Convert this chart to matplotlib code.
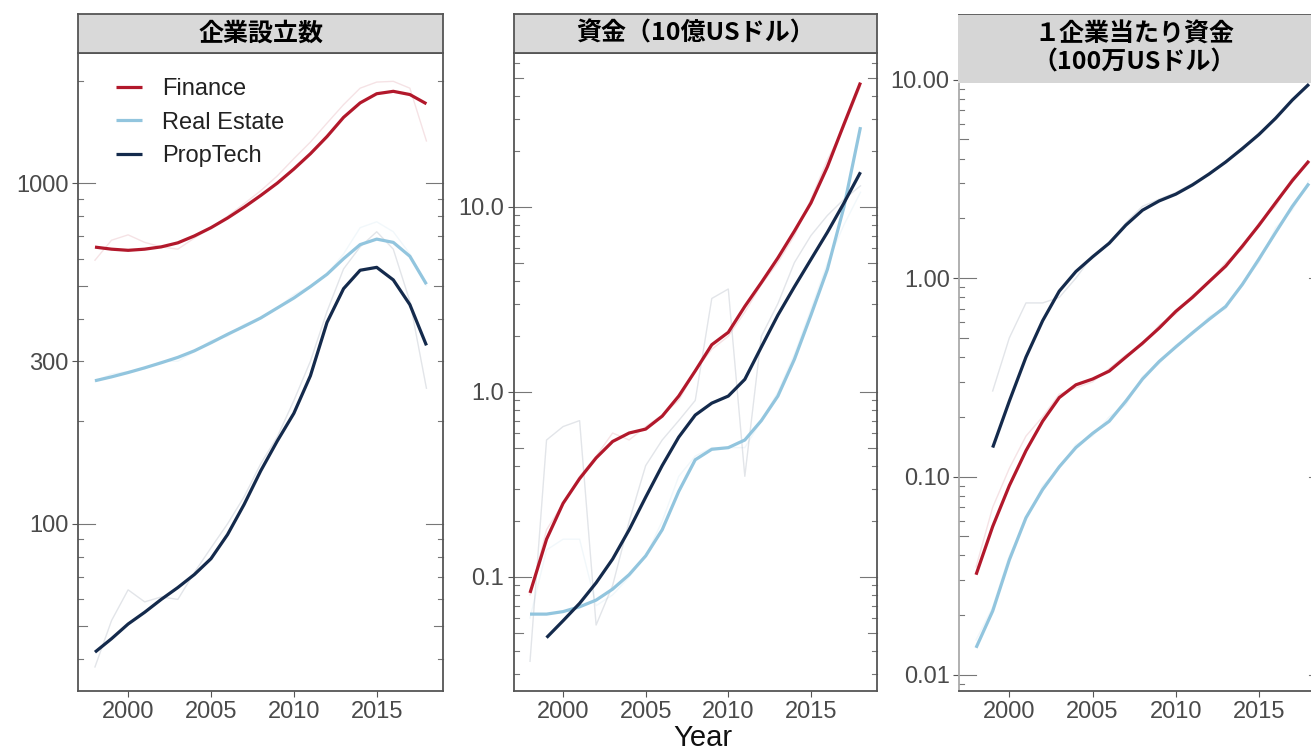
import numpy as np
import matplotlib
matplotlib.use("Agg")
import matplotlib.pyplot as plt
from matplotlib.ticker import FixedLocator, NullLocator, FixedFormatter

plt.rcParams['font.family'] = ['Liberation Sans', 'Noto Sans CJK JP', 'DejaVu Sans']

years = list(range(1998, 2019))
series_names = ['Finance', 'Real Estate', 'PropTech']
colors = {'Finance': '#b2182b', 'Real Estate': '#92c5de', 'PropTech': '#142a4c'}
titles = ['企業設立数', '資金（10億USドル）', '１企業当たり資金\n（100万USドル）']

# panel 1: number of firms founded (smoothed)
firms_fin = [649, 640, 635, 640, 650, 668, 700, 740, 790, 850, 920, 1000, 1100, 1220, 1370, 1560, 1720, 1830, 1860, 1820, 1710]
firms_re = [263, 270, 278, 287, 297, 308, 322, 340, 360, 380, 402, 430, 460, 497, 540, 600, 660, 685, 670, 610, 505]
firms_pt = [42, 46, 50.8, 55, 60, 65, 71, 79, 93, 114, 143, 175, 211, 272, 390, 490, 555, 566, 520, 440, 334]
# panel 1: raw counts (faint)
firms_fin_raw = [594, 680, 705, 670, 650, 640, 690, 740, 800, 870, 950, 1050, 1180, 1320, 1500, 1700, 1900, 1980, 1990, 1900, 1330]
firms_re_raw = [262, 275, 280, 285, 300, 300, 320, 345, 355, 385, 400, 430, 470, 500, 540, 620, 740, 770, 720, 620, 500]
firms_pt_raw = [38, 52, 64, 59, 61, 60, 72, 85, 100, 120, 150, 180, 230, 300, 420, 560, 650, 720, 640, 450, 250]

# panel 2: funding, billion USD (smoothed)
fund_fin = [0.082, 0.16, 0.25, 0.34, 0.44, 0.54, 0.60, 0.63, 0.74, 0.95, 1.3, 1.8, 2.1, 2.9, 3.9, 5.3, 7.4, 10.5, 16.5, 28, 47]
fund_re = [0.063, 0.063, 0.065, 0.069, 0.075, 0.086, 0.103, 0.13, 0.18, 0.29, 0.43, 0.49, 0.50, 0.55, 0.70, 0.95, 1.5, 2.6, 4.6, 10, 27]
fund_pt = [None, 0.047, 0.058, 0.072, 0.093, 0.125, 0.18, 0.27, 0.40, 0.57, 0.75, 0.87, 0.95, 1.17, 1.75, 2.6, 3.7, 5.2, 7.3, 10.5, 15.4]
fund_fin_raw = [0.08, 0.18, 0.25, 0.35, 0.45, 0.6, 0.55, 0.65, 0.75, 0.9, 1.3, 1.7, 2.0, 2.7, 3.8, 5.0, 7.0, 11, 18, 27, 45]
fund_re_raw = [0.06, 0.14, 0.16, 0.16, 0.07, 0.08, 0.10, 0.13, 0.20, 0.35, 0.45, 0.50, 0.50, 0.50, 0.70, 1.0, 1.6, 2.8, 5.0, 8.0, 12]
fund_pt_raw = [0.035, 0.55, 0.65, 0.70, 0.055, 0.09, 0.20, 0.40, 0.55, 0.70, 0.90, 3.2, 3.6, 0.35, 2.0, 3.0, 5.0, 7.0, 9.0, 11, 13]

# panel 3: funding per firm, million USD (smoothed)
per_fin = [0.032, 0.056, 0.09, 0.135, 0.19, 0.25, 0.29, 0.31, 0.34, 0.40, 0.47, 0.56, 0.68, 0.80, 0.96, 1.15, 1.45, 1.85, 2.4, 3.1, 3.9]
per_re = [0.0137, 0.021, 0.038, 0.062, 0.086, 0.112, 0.14, 0.165, 0.19, 0.24, 0.31, 0.38, 0.45, 0.53, 0.62, 0.72, 0.93, 1.25, 1.7, 2.3, 3.0]
per_pt = [None, 0.14, 0.24, 0.40, 0.61, 0.86, 1.08, 1.28, 1.5, 1.85, 2.2, 2.45, 2.65, 2.95, 3.35, 3.85, 4.5, 5.3, 6.4, 7.9, 9.5]
per_fin_raw = [0.035, 0.07, 0.11, 0.16, 0.20, 0.26, 0.28, 0.30, 0.35, 0.41, 0.46, 0.58, 0.66, 0.82, 0.95, 1.2, 1.4, 1.9, 2.3, 3.2, 3.8]
per_re_raw = [0.015, 0.022, 0.040, 0.060, 0.090, 0.11, 0.145, 0.16, 0.20, 0.23, 0.32, 0.37, 0.46, 0.52, 0.64, 0.70, 0.95, 1.2, 1.8, 2.2, 3.1]
per_pt_raw = [None, 0.27, 0.5, 0.75, 0.75, 0.8, 1.0, 1.3, 1.5, 1.9, 2.3, 2.5, 2.7, 3.0, 3.3, 3.9, 4.4, 5.4, 6.3, 8.0, 9.3]

panels = [
    dict(smooth=[firms_fin, firms_re, firms_pt], raw=[firms_fin_raw, firms_re_raw, firms_pt_raw],
         ylim=(32.3, 2410), yticks=[100, 300, 1000], ylabels=['100', '300', '1000']),
    dict(smooth=[fund_fin, fund_re, fund_pt], raw=[fund_fin_raw, fund_re_raw, fund_pt_raw],
         ylim=(0.0242, 67.9), yticks=[0.1, 1, 10], ylabels=['0.1', '1.0', '10.0']),
    dict(smooth=[per_fin, per_re, per_pt], raw=[per_fin_raw, per_re_raw, per_pt_raw],
         ylim=(0.0083, 21.2), yticks=[0.01, 0.1, 1, 10], ylabels=['0.01', '0.10', '1.00', '10.00']),
]

W, H = 1311, 752


def rect(x0, y0, x1, y1):
    return [x0 / W, 1 - y1 / H, (x1 - x0) / W, (y1 - y0) / H]


def to_arr(vals):
    return np.array([np.nan if v is None else v for v in vals], dtype=float)


def logticks(ax, ymin, ymax, width_px):
    tr = ax.get_yaxis_transform()
    for e in range(-3, 5):
        for k in range(1, 10):
            v = k * 10.0 ** e
            if v < ymin or v > ymax:
                continue
            L = 17 if k == 1 else (9 if k == 5 else 5)
            f = L / width_px
            ax.plot([0, f], [v, v], transform=tr, color='#777777', lw=0.8, clip_on=False, zorder=1)
            ax.plot([1 - f, 1], [v, v], transform=tr, color='#777777', lw=0.8, clip_on=False, zorder=1)


fig = plt.figure(figsize=(W / 100, H / 100), dpi=100)

boxes = [(78.4, 53, 443, 691), (513.5, 53, 877, 691), (959.4, 15, 1325.6, 691)]
axes = []
for i, (p, b) in enumerate(zip(panels, boxes)):
    ax = fig.add_axes(rect(*b))
    axes.append(ax)
    for name, rw in zip(series_names, p['raw']):
        ax.plot(years, to_arr(rw), color=colors[name], lw=1.0, alpha=0.12, zorder=2)
    for name, sm in zip(series_names, p['smooth']):
        ax.plot(years, to_arr(sm), color=colors[name], lw=2.3, zorder=3, label=name,
                solid_capstyle='butt')
    ax.set_yscale('log')
    ax.set_xlim(1997, 2019)
    ax.set_ylim(*p['ylim'])
    ax.yaxis.set_major_locator(FixedLocator(p['yticks']))
    ax.yaxis.set_major_formatter(FixedFormatter(p['ylabels']))
    ax.yaxis.set_minor_locator(NullLocator())
    ax.set_xticks([2000, 2005, 2010, 2015])
    ax.tick_params(axis='both', direction='out', length=4, width=0.8, color='#555555',
                   labelsize=17, labelcolor='#4a4a4a', pad=3)
    for s in ax.spines.values():
        s.set_color('#555555')
        s.set_linewidth(1.3)
    logticks(ax, p['ylim'][0], p['ylim'][1], b[2] - b[0])

    if i < 2:
        sax = fig.add_axes(rect(b[0], 14, b[2], 53))
        sax.set_facecolor('#d9d9d9')
        for s in sax.spines.values():
            s.set_color('#555555')
            s.set_linewidth(1.3)
        sax.set_xticks([])
        sax.set_yticks([])
        sax.text(0.5, 0.5, titles[i], ha='center', va='center', fontsize=18, fontweight='bold',
                 family=['Noto Sans CJK JP', 'DejaVu Sans'], color='black')
    else:
        ax.spines['left'].set_color('#aaaaaa')
        sax = fig.add_axes(rect(958, 15, 1311, 83))
        sax.set_facecolor('#d6d6d6')
        for s in sax.spines.values():
            s.set_visible(False)
        sax.set_xticks([])
        sax.set_yticks([])
        sax.text(0.5, 0.5, titles[i], ha='center', va='center', fontsize=18, fontweight='bold',
                 family=['Noto Sans CJK JP', 'DejaVu Sans'], color='black', linespacing=1.2)

leg = axes[0].legend(loc='upper left', bbox_to_anchor=(0.078, 0.975), frameon=False, fontsize=17,
                     handlelength=1.1, handletextpad=0.85, labelspacing=0.48, borderaxespad=0)
for t in leg.get_texts():
    t.set_color('#222222')

fig.text(703 / W, 1 - 738 / H, 'Year', ha='center', va='center', fontsize=21, color='#111111')

fig.savefig('out.png', dpi=100)
